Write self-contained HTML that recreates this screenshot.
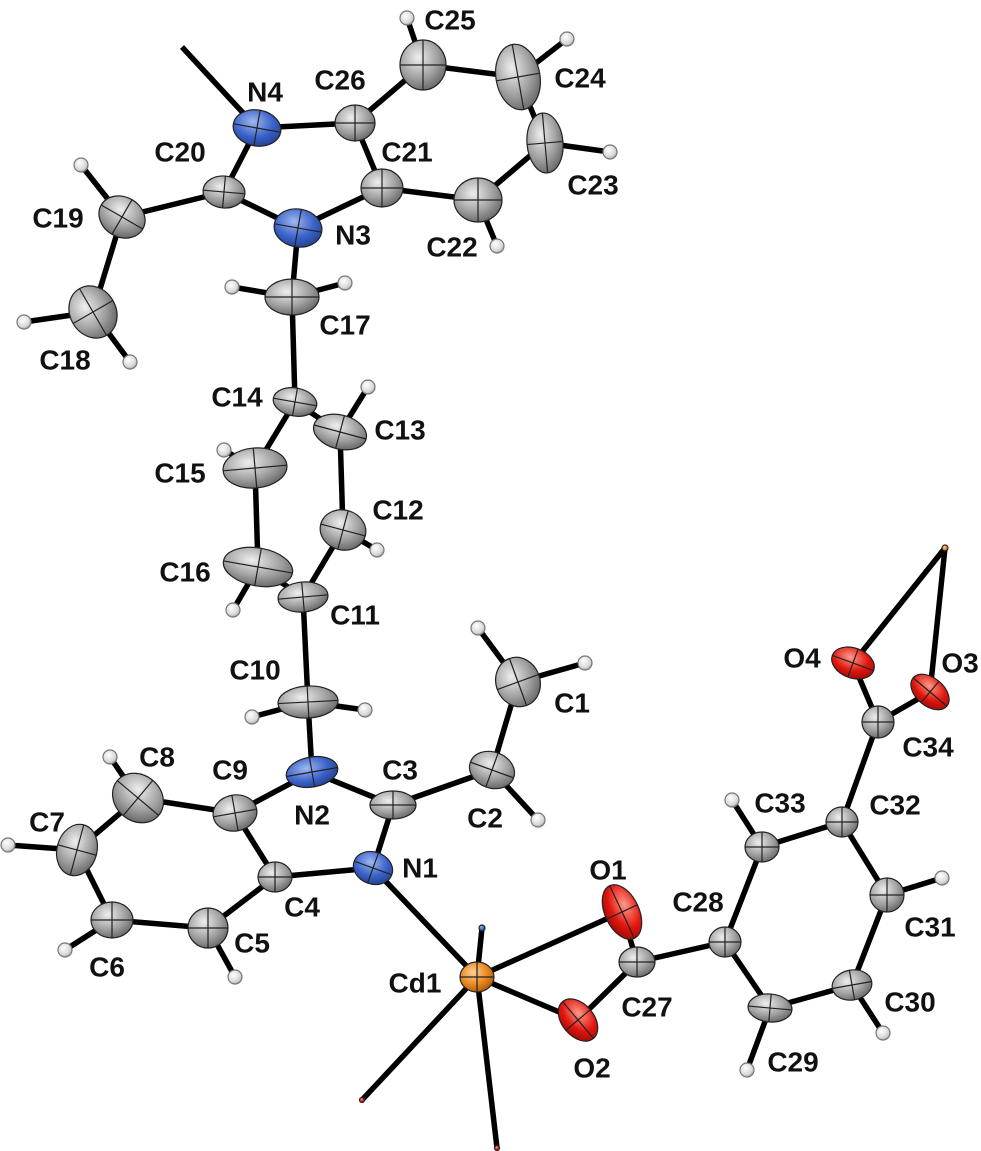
<!DOCTYPE html>
<html><head><meta charset="utf-8"><style>
html,body{margin:0;padding:0;background:#fff;}
svg{display:block;}
text{font-family:"Liberation Sans",Arial,sans-serif;font-weight:bold;font-size:28px;fill:#111;text-anchor:middle;dominant-baseline:central;}
</style></head><body>
<svg width="981" height="1151" viewBox="0 0 981 1151" xmlns="http://www.w3.org/2000/svg">
<defs>
<radialGradient id="gC" cx="40%" cy="35%" r="70%"><stop offset="0" stop-color="#eeeeee"/><stop offset="0.6" stop-color="#a0a0a0"/><stop offset="1" stop-color="#646464"/></radialGradient>
<radialGradient id="gN" cx="40%" cy="35%" r="70%"><stop offset="0" stop-color="#9fb8f0"/><stop offset="0.6" stop-color="#3a62c8"/><stop offset="1" stop-color="#22408e"/></radialGradient>
<radialGradient id="gO" cx="40%" cy="35%" r="70%"><stop offset="0" stop-color="#ff9a8a"/><stop offset="0.6" stop-color="#e0160e"/><stop offset="1" stop-color="#a00a05"/></radialGradient>
<radialGradient id="gCd" cx="40%" cy="35%" r="70%"><stop offset="0" stop-color="#ffd39a"/><stop offset="0.6" stop-color="#e8841c"/><stop offset="1" stop-color="#a8560a"/></radialGradient>
<radialGradient id="gH" cx="40%" cy="35%" r="70%"><stop offset="0" stop-color="#ffffff"/><stop offset="0.7" stop-color="#d8d8d8"/><stop offset="1" stop-color="#9a9a9a"/></radialGradient>
</defs>
<g stroke="#000" stroke-width="5.5" stroke-linecap="butt" fill="none">
<line x1="257" y1="128" x2="182" y2="47"/>
<line x1="257" y1="128" x2="355" y2="123"/>
<line x1="257" y1="128" x2="224" y2="192"/>
<line x1="355" y1="123" x2="423" y2="65"/>
<line x1="355" y1="123" x2="382" y2="188"/>
<line x1="423" y1="65" x2="518" y2="77"/>
<line x1="518" y1="77" x2="545" y2="143"/>
<line x1="545" y1="143" x2="478" y2="200"/>
<line x1="478" y1="200" x2="382" y2="188"/>
<line x1="382" y1="188" x2="298" y2="228"/>
<line x1="298" y1="228" x2="224" y2="192"/>
<line x1="224" y1="192" x2="122" y2="217"/>
<line x1="122" y1="217" x2="93" y2="312"/>
<line x1="298" y1="228" x2="292" y2="297"/>
<line x1="292" y1="297" x2="295" y2="402"/>
<line x1="295" y1="402" x2="340" y2="432"/>
<line x1="295" y1="402" x2="255" y2="468"/>
<line x1="340" y1="432" x2="343" y2="530"/>
<line x1="255" y1="468" x2="258" y2="567"/>
<line x1="343" y1="530" x2="303" y2="597"/>
<line x1="258" y1="567" x2="303" y2="597"/>
<line x1="303" y1="597" x2="308" y2="702"/>
<line x1="308" y1="702" x2="312" y2="772"/>
<line x1="312" y1="772" x2="235" y2="813"/>
<line x1="312" y1="772" x2="393" y2="805"/>
<line x1="393" y1="805" x2="373" y2="868"/>
<line x1="393" y1="805" x2="492" y2="770"/>
<line x1="492" y1="770" x2="518" y2="682"/>
<line x1="235" y1="813" x2="138" y2="798"/>
<line x1="235" y1="813" x2="275" y2="877"/>
<line x1="138" y1="798" x2="77" y2="850"/>
<line x1="77" y1="850" x2="112" y2="920"/>
<line x1="112" y1="920" x2="208" y2="928"/>
<line x1="208" y1="928" x2="275" y2="877"/>
<line x1="275" y1="877" x2="373" y2="868"/>
<line x1="373" y1="868" x2="477" y2="977"/>
<line x1="477" y1="977" x2="622" y2="912"/>
<line x1="477" y1="977" x2="578" y2="1020"/>
<line x1="477" y1="977" x2="362" y2="1100"/>
<line x1="477" y1="977" x2="497" y2="1148"/>
<line x1="477" y1="977" x2="482" y2="928"/>
<line x1="622" y1="912" x2="637" y2="962"/>
<line x1="578" y1="1020" x2="637" y2="962"/>
<line x1="637" y1="962" x2="725" y2="942"/>
<line x1="725" y1="942" x2="762" y2="847"/>
<line x1="725" y1="942" x2="770" y2="1008"/>
<line x1="770" y1="1008" x2="852" y2="985"/>
<line x1="852" y1="985" x2="887" y2="895"/>
<line x1="887" y1="895" x2="842" y2="822"/>
<line x1="842" y1="822" x2="762" y2="847"/>
<line x1="842" y1="822" x2="878" y2="722"/>
<line x1="878" y1="722" x2="853" y2="663"/>
<line x1="878" y1="722" x2="930" y2="692"/>
<line x1="853" y1="663" x2="945" y2="548"/>
<line x1="930" y1="692" x2="945" y2="548"/>
<line x1="423" y1="65" x2="407" y2="18"/>
<line x1="518" y1="77" x2="567" y2="39"/>
<line x1="545" y1="143" x2="610" y2="152"/>
<line x1="478" y1="200" x2="497" y2="246"/>
<line x1="122" y1="217" x2="81" y2="165"/>
<line x1="93" y1="312" x2="24" y2="322"/>
<line x1="93" y1="312" x2="130" y2="362"/>
<line x1="292" y1="297" x2="232" y2="287"/>
<line x1="292" y1="297" x2="345" y2="283"/>
<line x1="340" y1="432" x2="368" y2="387"/>
<line x1="255" y1="468" x2="224" y2="450"/>
<line x1="343" y1="530" x2="377" y2="550"/>
<line x1="258" y1="567" x2="233" y2="610"/>
<line x1="308" y1="702" x2="252" y2="717"/>
<line x1="308" y1="702" x2="365" y2="710"/>
<line x1="518" y1="682" x2="478" y2="628"/>
<line x1="518" y1="682" x2="585" y2="663"/>
<line x1="492" y1="770" x2="538" y2="820"/>
<line x1="138" y1="798" x2="110" y2="757"/>
<line x1="77" y1="850" x2="8" y2="845"/>
<line x1="112" y1="920" x2="65" y2="950"/>
<line x1="208" y1="928" x2="235" y2="977"/>
<line x1="762" y1="847" x2="732" y2="800"/>
<line x1="887" y1="895" x2="942" y2="878"/>
<line x1="852" y1="985" x2="883" y2="1033"/>
<line x1="770" y1="1008" x2="747" y2="1070"/>
</g>
<g stroke="#222" stroke-width="1.2">
<g fill="url(#gH)" stroke="#777">
<circle cx="407" cy="18" r="7"/><circle cx="567" cy="39" r="7"/><circle cx="610" cy="152" r="7"/><circle cx="497" cy="246" r="7"/>
<circle cx="81" cy="165" r="7"/><circle cx="24" cy="322" r="7"/><circle cx="130" cy="362" r="7"/>
<circle cx="232" cy="287" r="7"/><circle cx="345" cy="283" r="7"/><circle cx="368" cy="387" r="7"/>
<circle cx="224" cy="450" r="7"/><circle cx="377" cy="550" r="7"/><circle cx="233" cy="610" r="7"/>
<circle cx="252" cy="717" r="7"/><circle cx="365" cy="710" r="7"/><circle cx="478" cy="628" r="7"/>
<circle cx="585" cy="663" r="7"/><circle cx="538" cy="820" r="7"/><circle cx="110" cy="757" r="7"/>
<circle cx="8" cy="845" r="7"/><circle cx="65" cy="950" r="7"/><circle cx="235" cy="977" r="7"/>
<circle cx="732" cy="800" r="7"/><circle cx="942" cy="878" r="7"/><circle cx="883" cy="1033" r="7"/><circle cx="747" cy="1070" r="7"/>
</g>
<g fill="url(#gC)">
<g transform="translate(355,123)"><ellipse rx="20" ry="18"/><path d="M-20 0H20M0 -18V18" fill="none"/></g>
<g transform="translate(423,65)"><ellipse rx="23" ry="25"/><path d="M-23 0H23M0 -25V25" fill="none"/></g>
<g transform="translate(518,77) rotate(-10)"><ellipse rx="22" ry="33"/><path d="M-22 0H22M0 -33V33" fill="none"/></g>
<g transform="translate(545,143) rotate(-5)"><ellipse rx="18" ry="30"/><path d="M-18 0H18M0 -30V30" fill="none"/></g>
<g transform="translate(478,200)"><ellipse rx="24" ry="22"/><path d="M-24 0H24M0 -22V22" fill="none"/></g>
<g transform="translate(382,188)"><ellipse rx="21" ry="19"/><path d="M-21 0H21M0 -19V19" fill="none"/></g>
<g transform="translate(224,192) rotate(5)"><ellipse rx="21" ry="16"/><path d="M-21 0H21M0 -16V16" fill="none"/></g>
<g transform="translate(122,217) rotate(30)"><ellipse rx="24" ry="20"/><path d="M-24 0H24M0 -20V20" fill="none"/></g>
<g transform="translate(93,312) rotate(-30)"><ellipse rx="23" ry="27"/><path d="M-23 0H23M0 -27V27" fill="none"/></g>
<g transform="translate(292,297)"><ellipse rx="27" ry="18"/><path d="M-27 0H27M0 -18V18" fill="none"/></g>
<g transform="translate(295,402) rotate(10)"><ellipse rx="22" ry="14"/><path d="M-22 0H22M0 -14V14" fill="none"/></g>
<g transform="translate(340,432) rotate(15)"><ellipse rx="27" ry="17"/><path d="M-27 0H27M0 -17V17" fill="none"/></g>
<g transform="translate(255,468) rotate(-5)"><ellipse rx="32" ry="20"/><path d="M-32 0H32M0 -20V20" fill="none"/></g>
<g transform="translate(343,530) rotate(15)"><ellipse rx="23" ry="20"/><path d="M-23 0H23M0 -20V20" fill="none"/></g>
<g transform="translate(258,567) rotate(10)"><ellipse rx="35" ry="19"/><path d="M-35 0H35M0 -19V19" fill="none"/></g>
<g transform="translate(303,597) rotate(-5)"><ellipse rx="25" ry="15"/><path d="M-25 0H25M0 -15V15" fill="none"/></g>
<g transform="translate(308,702) rotate(-3)"><ellipse rx="30" ry="16"/><path d="M-30 0H30M0 -16V16" fill="none"/></g>
<g transform="translate(235,813) rotate(-10)"><ellipse rx="22" ry="18"/><path d="M-22 0H22M0 -18V18" fill="none"/></g>
<g transform="translate(138,798) rotate(40)"><ellipse rx="27" ry="23"/><path d="M-27 0H27M0 -23V23" fill="none"/></g>
<g transform="translate(77,850) rotate(15)"><ellipse rx="20" ry="26"/><path d="M-20 0H20M0 -26V26" fill="none"/></g>
<g transform="translate(112,920)"><ellipse rx="21" ry="18"/><path d="M-21 0H21M0 -18V18" fill="none"/></g>
<g transform="translate(208,928)"><ellipse rx="20" ry="20"/><path d="M-20 0H20M0 -20V20" fill="none"/></g>
<g transform="translate(275,877)"><ellipse rx="17" ry="15"/><path d="M-17 0H17M0 -15V15" fill="none"/></g>
<g transform="translate(393,805)"><ellipse rx="23" ry="14"/><path d="M-23 0H23M0 -14V14" fill="none"/></g>
<g transform="translate(492,770) rotate(20)"><ellipse rx="23" ry="18"/><path d="M-23 0H23M0 -18V18" fill="none"/></g>
<g transform="translate(518,682) rotate(-20)"><ellipse rx="22" ry="25"/><path d="M-22 0H22M0 -25V25" fill="none"/></g>
<g transform="translate(637,962)"><ellipse rx="18" ry="15"/><path d="M-18 0H18M0 -15V15" fill="none"/></g>
<g transform="translate(725,942)"><ellipse rx="16" ry="15"/><path d="M-16 0H16M0 -15V15" fill="none"/></g>
<g transform="translate(770,1008) rotate(5)"><ellipse rx="22" ry="14"/><path d="M-22 0H22M0 -14V14" fill="none"/></g>
<g transform="translate(852,985) rotate(-10)"><ellipse rx="20" ry="15"/><path d="M-20 0H20M0 -15V15" fill="none"/></g>
<g transform="translate(887,895)"><ellipse rx="17" ry="17"/><path d="M-17 0H17M0 -17V17" fill="none"/></g>
<g transform="translate(842,822)"><ellipse rx="16" ry="15"/><path d="M-16 0H16M0 -15V15" fill="none"/></g>
<g transform="translate(762,847)"><ellipse rx="17" ry="15"/><path d="M-17 0H17M0 -15V15" fill="none"/></g>
<g transform="translate(878,722)"><ellipse rx="16" ry="16"/><path d="M-16 0H16M0 -16V16" fill="none"/></g>
</g>
<g fill="url(#gN)">
<g transform="translate(257,128) rotate(10)"><ellipse rx="24" ry="18"/><path d="M-24 0H24M0 -18V18" fill="none"/></g>
<g transform="translate(298,228) rotate(10)"><ellipse rx="24" ry="19"/><path d="M-24 0H24M0 -19V19" fill="none"/></g>
<g transform="translate(312,772) rotate(-10)"><ellipse rx="26" ry="15"/><path d="M-26 0H26M0 -15V15" fill="none"/></g>
<g transform="translate(373,868) rotate(20)"><ellipse rx="20" ry="16"/><path d="M-20 0H20M0 -16V16" fill="none"/></g>
<circle cx="482" cy="928" r="3"/>
</g>
<g fill="url(#gO)">
<g transform="translate(622,912) rotate(65)"><ellipse rx="29" ry="17"/><path d="M-29 0H29M0 -17V17" fill="none"/></g>
<g transform="translate(578,1020) rotate(50)"><ellipse rx="24" ry="16"/><path d="M-24 0H24M0 -16V16" fill="none"/></g>
<g transform="translate(853,663) rotate(20)"><ellipse rx="22" ry="15"/><path d="M-22 0H22M0 -15V15" fill="none"/></g>
<g transform="translate(930,692) rotate(40)"><ellipse rx="22" ry="14"/><path d="M-22 0H22M0 -14V14" fill="none"/></g>
<circle cx="497" cy="1148" r="2.5"/>
<circle cx="362" cy="1100" r="2.5"/>
</g>
<g fill="url(#gCd)">
<g transform="translate(477,977)"><ellipse rx="17" ry="15"/><path d="M-17 0H17M0 -15V15" fill="none"/></g>
<circle cx="945" cy="548" r="3"/>
</g>
</g>
<text x="265" y="92">N4</text>
<text x="340" y="80">C26</text>
<text x="450" y="20">C25</text>
<text x="580" y="78">C24</text>
<text x="407" y="152">C21</text>
<text x="593" y="185">C23</text>
<text x="180" y="152">C20</text>
<text x="58" y="218">C19</text>
<text x="353" y="235">N3</text>
<text x="452" y="247">C22</text>
<text x="345" y="325">C17</text>
<text x="65" y="360">C18</text>
<text x="237" y="397">C14</text>
<text x="400" y="430">C13</text>
<text x="180" y="473">C15</text>
<text x="398" y="510">C12</text>
<text x="185" y="572">C16</text>
<text x="355" y="615">C11</text>
<text x="255" y="670">C10</text>
<text x="572" y="703">C1</text>
<text x="157" y="757">C8</text>
<text x="230" y="770">C9</text>
<text x="400" y="770">C3</text>
<text x="312" y="815">N2</text>
<text x="485" y="818">C2</text>
<text x="47" y="822">C7</text>
<text x="420" y="868">N1</text>
<text x="302" y="907">C4</text>
<text x="252" y="943">C5</text>
<text x="107" y="967">C6</text>
<text x="415" y="983">Cd1</text>
<text x="608" y="870">O1</text>
<text x="647" y="1007">C27</text>
<text x="592" y="1068">O2</text>
<text x="802" y="658">O4</text>
<text x="960" y="663">O3</text>
<text x="928" y="747">C34</text>
<text x="780" y="803">C33</text>
<text x="895" y="805">C32</text>
<text x="698" y="902">C28</text>
<text x="930" y="927">C31</text>
<text x="910" y="1002">C30</text>
<text x="793" y="1062">C29</text>
</svg>
</body></html>
